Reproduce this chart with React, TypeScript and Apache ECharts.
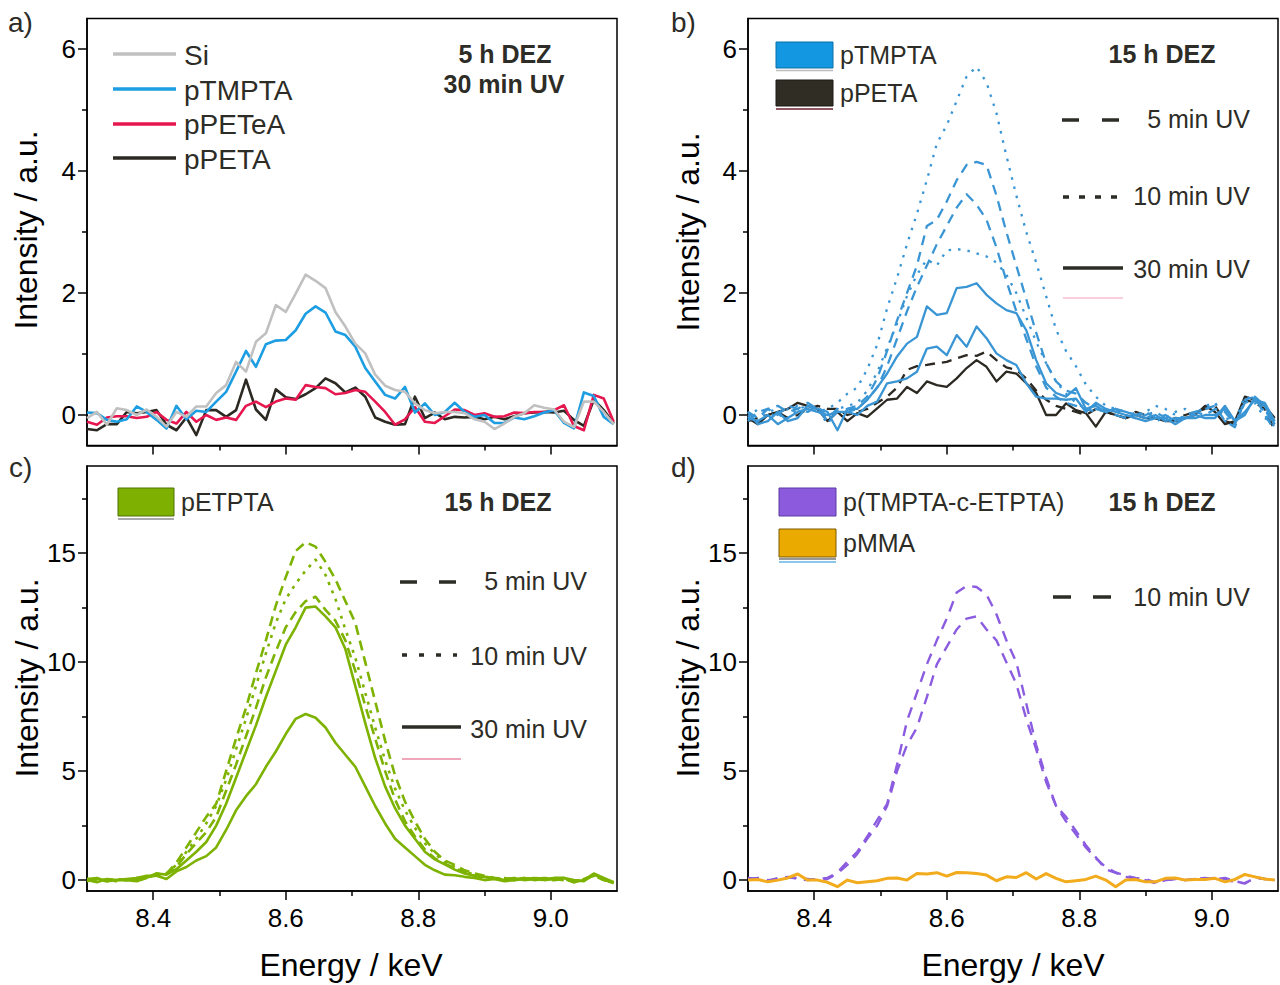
import React, { useEffect, useRef } from "react";
import * as echarts from "echarts";

// Energy grid (keV)
const energy = [
  8.300, 8.315, 8.330, 8.345, 8.360, 8.375, 8.390, 8.405, 8.420, 8.435,
  8.450, 8.465, 8.480, 8.495, 8.510, 8.525, 8.540, 8.555, 8.570, 8.585,
  8.600, 8.615, 8.630, 8.645, 8.660, 8.675, 8.690, 8.705, 8.720, 8.735,
  8.750, 8.765, 8.780, 8.795, 8.810, 8.825, 8.840, 8.855, 8.870, 8.885,
  8.900, 8.915, 8.930, 8.945, 8.960, 8.975, 8.990, 9.005, 9.020, 9.035,
  9.050, 9.065, 9.080, 9.095,
];

// ---- Panel a (5 h DEZ, 30 min UV)
const siA = [
  -0.05, 0.05, -0.16, 0.11, 0.08, 0.0, 0.09, -0.03, -0.19, 0.05,
  -0.03, 0.14, 0.14, 0.36, 0.49, 0.87, 0.71, 1.2, 1.34, 1.8,
  1.69, 1.99, 2.3, 2.2, 2.08, 1.69, 1.45, 1.17, 1.01, 0.66,
  0.48, 0.41, 0.38, 0.19, 0.08, 0.03, 0.05, 0.05, 0.03, -0.07,
  -0.11, -0.23, -0.14, -0.03, 0.03, 0.16, 0.12, 0.09, -0.11, -0.2,
  0.22, 0.22, 0.05, -0.15,
];
const tmptaA = [
  0.04, 0.03, -0.08, -0.11, -0.07, 0.14, 0.05, -0.08, -0.22, 0.15,
  -0.07, 0.07, 0.05, 0.22, 0.38, 0.71, 1.05, 0.79, 1.16, 1.22,
  1.23, 1.39, 1.66, 1.78, 1.68, 1.37, 1.31, 1.12, 0.77, 0.55,
  0.33, 0.27, 0.46, 0.04, 0.19, 0.0, 0.05, 0.2, 0.05, -0.03,
  0.0, -0.13, -0.13, -0.04, -0.07, -0.02, 0.04, 0.08, -0.13, -0.22,
  0.37, 0.31, -0.03, -0.15,
];
const peteaA = [
  -0.11, -0.16, -0.04, -0.02, -0.02, -0.05, -0.03, 0.05, -0.08, -0.14,
  0.05, -0.11, 0.0, -0.08, -0.04, -0.08, 0.15, 0.22, 0.13, 0.22,
  0.27, 0.25, 0.49, 0.46, 0.44, 0.34, 0.36, 0.41, 0.38, 0.22,
  0.05, -0.16, -0.07, 0.13, -0.11, -0.13, -0.02, 0.09, 0.08, 0.0,
  0.03, -0.03, -0.02, 0.04, 0.03, 0.05, 0.05, 0.08, 0.16, -0.18,
  -0.25, 0.33, 0.27, -0.11,
];
const petaA = [
  -0.23, -0.25, -0.15, -0.15, 0.05, 0.03, 0.05, 0.08, -0.16, -0.25,
  -0.04, -0.33, 0.08, 0.08, -0.03, 0.08, 0.58, 0.09, -0.08, 0.42,
  0.29, 0.26, 0.34, 0.44, 0.6, 0.52, 0.37, 0.45, 0.3, -0.04,
  -0.11, -0.16, -0.15, 0.3, -0.05, 0.04, -0.07, -0.03, -0.04, -0.03,
  -0.07, -0.03, -0.07, -0.02, 0.03, 0.04, 0.05, 0.04, 0.07, -0.08,
  -0.18, 0.25, 0.08, -0.14,
];

// ---- Panel b (15 h DEZ)
const tmptaB10a = [
  -0.05, 0.1, 0.05, -0.05, 0.1, 0.15, 0.12, 0.05, 0.1, 0.2,
  0.35, 0.45, 0.75, 1.15, 1.75, 2.25, 2.8, 3.3, 3.85, 4.45,
  4.75, 5.15, 5.55, 5.71, 5.45, 4.95, 4.25, 3.6, 3.0, 2.5,
  1.95, 1.4, 1.05, 0.8, 0.5, 0.3, 0.15, 0.1, 0.05, 0.0,
  0.05, 0.15, 0.1, 0.0, -0.05, 0.05, 0.1, 0.2, -0.05, -0.1,
  0.3, 0.25, 0.05, -0.2,
];
const tmptaB10b = [
  0.0, -0.1, 0.05, 0.1, -0.05, 0.1, 0.15, 0.1, -0.15, 0.1,
  0.15, 0.2, 0.4, 0.7, 1.1, 1.5, 1.95, 2.3, 2.55, 2.45,
  2.7, 2.72, 2.7, 2.65, 2.6, 2.5, 2.3, 2.0, 1.6, 1.2,
  0.85, 0.55, 0.35, 0.2, 0.1, 0.15, 0.05, 0.0, -0.05, 0.05,
  0.0, -0.1, -0.05, 0.05, 0.1, 0.0, 0.15, 0.2, -0.1, -0.15,
  0.25, 0.2, -0.05, -0.15,
];
const tmptaB5a = [
  0.05, -0.05, 0.1, 0.15, 0.05, 0.1, 0.2, 0.1, -0.1, 0.05,
  0.1, 0.15, 0.3, 0.6, 1.05, 1.55, 2.0, 2.45, 3.1, 3.2,
  3.5, 3.85, 4.1, 4.15, 4.1, 3.6, 3.0, 2.45, 1.9, 1.35,
  0.85, 0.55, 0.4, 0.35, 0.2, 0.1, 0.05, 0.1, 0.0, -0.05,
  0.0, 0.05, -0.05, -0.1, 0.0, 0.05, 0.1, 0.15, -0.1, -0.2,
  0.25, 0.3, 0.0, -0.25,
];
const tmptaB5b = [
  -0.1, 0.05, 0.1, 0.0, 0.15, 0.1, 0.05, 0.15, -0.05, 0.1,
  0.05, 0.1, 0.25, 0.45, 0.8, 1.25, 1.7, 2.1, 2.45, 2.8,
  3.1, 3.4, 3.62, 3.45, 3.2, 2.75, 2.2, 1.7, 1.25, 0.8,
  0.45, 0.3, 0.2, 0.15, 0.1, 0.05, 0.1, 0.0, -0.05, 0.0,
  0.05, -0.05, 0.0, -0.1, -0.05, 0.05, 0.0, 0.1, 0.05, -0.15,
  0.2, 0.25, 0.1, -0.2,
];
const tmptaB30a = [
  0.05, -0.15, -0.1, 0.05, -0.1, -0.05, 0.15, 0.1, 0.05, -0.25,
  0.1, 0.1, 0.25, 0.45, 0.68, 0.96, 1.17, 1.28, 1.78, 1.64,
  1.67, 2.08, 2.1, 2.16, 1.97, 1.83, 1.72, 1.67, 1.39, 0.9,
  0.52, 0.36, 0.3, 0.44, 0.1, 0.15, 0.05, 0.1, 0.05, 0.0,
  -0.05, 0.0, -0.1, -0.05, -0.05, 0.0, -0.05, -0.05, 0.15, -0.1,
  0.0, 0.3, 0.15, -0.15,
];
const tmptaB30b = [
  -0.05, -0.1, 0.0, -0.15, -0.05, 0.05, 0.1, 0.05, 0.0, 0.05,
  0.05, 0.0, 0.15, 0.22, 0.52, 0.55, 0.6, 0.71, 1.09, 1.12,
  0.98, 1.31, 1.12, 1.45, 1.26, 1.01, 0.9, 0.82, 0.52, 0.3,
  0.27, 0.27, 0.25, 0.27, 0.05, 0.2, 0.1, 0.05, 0.0, -0.05,
  -0.1, -0.05, -0.05, -0.15, -0.05, -0.05, 0.0, 0.0, 0.1, -0.1,
  0.05, 0.25, 0.2, -0.1,
];
const petaB5 = [
  -0.1, -0.05, 0.0, 0.05, -0.05, 0.0, 0.1, 0.15, 0.1, 0.1,
  0.0, 0.05, 0.1, 0.2, 0.3, 0.45, 0.74, 0.8, 0.82, 0.85,
  0.87, 0.93, 0.98, 0.97, 1.04, 0.9, 0.78, 0.74, 0.6, 0.4,
  0.25, 0.15, 0.1, 0.05, 0.0, 0.1, 0.05, 0.0, -0.05, 0.05,
  0.0, -0.05, -0.1, -0.05, 0.0, 0.05, 0.1, 0.15, -0.1, -0.15,
  0.25, 0.2, 0.1, -0.25,
];
const petaB30 = [
  -0.05, -0.15, 0.0, 0.05, 0.1, 0.2, 0.15, 0.1, -0.1, 0.05,
  -0.1, 0.03, -0.03, 0.11, 0.25, 0.27, 0.46, 0.36, 0.55, 0.49,
  0.46, 0.6, 0.77, 0.9, 0.79, 0.55, 0.71, 0.68, 0.52, 0.36,
  0.0, 0.0, 0.19, 0.08, 0.03, -0.19, 0.05, 0.0, -0.05, 0.0,
  -0.05, -0.05, -0.1, -0.1, -0.05, 0.0, 0.15, 0.05, -0.15, -0.1,
  0.3, 0.25, 0.15, -0.05,
];

// ---- Panel c (pETPTA, 15 h DEZ)
const etptaC5a = [
  0.05, 0.0, -0.05, 0.05, 0.0, 0.05, 0.15, 0.2, 0.3, 0.8,
  1.5, 2.2, 2.9, 3.5, 5.0, 6.5, 7.9, 9.5, 11.0, 12.6,
  13.9, 15.1, 15.5, 15.3, 14.6, 13.8, 12.8, 11.8, 10.0, 8.2,
  6.4, 4.8, 3.6, 2.7, 1.9, 1.3, 0.9, 0.7, 0.45, 0.3,
  0.2, 0.1, 0.05, 0.1, 0.0, 0.05, 0.1, 0.05, 0.0, -0.05,
  0.05, 0.2, 0.0, -0.1,
];
const etptaC5b = [
  -0.05, 0.05, 0.0, 0.05, 0.0, 0.1, 0.1, 0.3, 0.3, 0.6,
  1.2, 1.7, 2.2, 2.9, 4.1, 5.3, 6.6, 7.9, 9.3, 10.5,
  11.6, 12.3, 12.8, 13.0, 12.4, 11.9, 11.0, 9.6, 8.0, 6.5,
  5.0, 3.7, 2.7, 2.0, 1.4, 1.0, 0.75, 0.55, 0.35, 0.2,
  0.1, 0.05, 0.1, 0.0, 0.05, 0.1, 0.05, 0.0, 0.05, -0.1,
  0.05, 0.2, 0.0, -0.1,
];
const etptaC10 = [
  0.0, 0.05, 0.0, -0.05, 0.05, 0.0, 0.1, 0.25, 0.3, 0.7,
  1.3, 1.9, 2.6, 3.4, 4.6, 6.0, 7.4, 8.9, 10.4, 11.8,
  12.9, 13.6, 14.2, 14.7, 14.0, 12.9, 11.5, 10.2, 8.6, 7.0,
  5.5, 4.2, 3.2, 2.4, 1.7, 1.2, 0.85, 0.6, 0.4, 0.25,
  0.15, 0.1, 0.05, 0.0, 0.1, 0.05, 0.0, 0.1, 0.05, -0.05,
  0.0, 0.25, 0.05, -0.15,
];
const etptaC30a = [
  0.0, -0.1, 0.05, 0.0, 0.0, -0.05, 0.1, 0.3, 0.25, 0.5,
  0.9, 1.3, 1.75, 2.5, 3.5, 4.7, 5.9, 7.1, 8.4, 9.6,
  10.8, 11.6, 12.5, 12.55, 12.1, 11.6, 10.6, 8.9, 7.2, 5.6,
  4.3, 3.3, 2.5, 1.9, 1.3, 0.95, 0.72, 0.48, 0.3, 0.2,
  0.15, 0.1, 0.0, 0.05, 0.1, 0.0, 0.05, 0.1, 0.1, 0.0,
  -0.05, 0.25, 0.05, -0.15,
];
const etptaC30b = [
  0.05, 0.1, -0.05, 0.0, 0.05, 0.1, 0.2, 0.2, 0.05, 0.4,
  0.6, 0.9, 1.1, 1.5, 2.3, 3.2, 3.85, 4.4, 5.2, 5.9,
  6.7, 7.4, 7.62, 7.45, 7.0, 6.3, 5.75, 5.2, 4.3, 3.4,
  2.6, 1.9, 1.5, 1.1, 0.7, 0.45, 0.25, 0.22, 0.15, 0.1,
  0.0, 0.05, -0.05, 0.0, 0.05, 0.1, 0.0, 0.05, 0.1, -0.1,
  0.0, 0.3, 0.1, -0.1,
];

// ---- Panel d (15 h DEZ)
const copolyD10a = [
  0.1, 0.05, -0.05, 0.1, 0.15, 0.05, 0.0, 0.05, 0.1, 0.35,
  0.85, 1.3, 2.0, 2.75, 3.5, 5.3, 7.3, 8.6, 9.9, 11.0,
  12.0, 13.2, 13.5, 13.45, 13.1, 12.2, 11.0, 10.0, 8.1, 6.2,
  4.7, 3.4, 2.9, 2.25, 1.6, 1.05, 0.5, 0.33, 0.15, 0.05,
  0.0, -0.15, 0.0, 0.05, 0.0, 0.05, 0.1, 0.05, 0.1, -0.05,
  -0.15, 0.15, 0.05, 0.0,
];
const copolyD10b = [
  0.05, 0.1, 0.0, 0.05, 0.1, 0.1, 0.05, 0.0, 0.05, 0.3,
  0.7, 1.2, 1.9, 2.5, 3.4, 5.0, 6.2, 7.0, 8.4, 9.9,
  10.7, 11.5, 12.0, 12.1, 11.5, 11.0, 10.0, 9.0, 7.4, 6.0,
  4.5, 3.4, 2.7, 2.1, 1.5, 1.0, 0.6, 0.35, 0.2, 0.1,
  0.05, -0.1, 0.0, 0.05, 0.0, 0.05, 0.05, 0.1, 0.05, -0.1,
  -0.15, 0.1, 0.05, 0.0,
];
const pmmaD = [
  0.0, 0.03, -0.08, 0.0, 0.1, 0.28, 0.0, 0.0, -0.1, -0.3,
  0.0, -0.12, -0.08, -0.03, 0.08, 0.1, 0.0, 0.3, 0.28, 0.34,
  0.18, 0.35, 0.34, 0.3, 0.23, -0.03, 0.15, 0.12, 0.34, 0.05,
  0.3, 0.08, -0.08, -0.03, 0.03, 0.18, 0.0, -0.3, 0.0, 0.03,
  -0.08, -0.08, 0.08, 0.1, 0.0, 0.03, 0.03, 0.08, -0.08, 0.03,
  0.26, 0.15, 0.05, 0.0,
];

// ---- Ticks
const xMajor = [8.4, 8.6, 8.8, 9.0];
const xMinor = [8.5, 8.7, 8.9];
const yMajorTop = [0, 2, 4, 6];
const yMinorTop = [1, 3, 5];
const yMajorBottom = [0, 5, 10, 15];
const yMinorBottom = [2.5, 7.5, 12.5, 17.5];

const FONT = '"Liberation Sans", Arial, Helvetica, sans-serif';
const INK = "#2d2c26";

const C = {
  gray: "#c0c0c0",
  blueA: "#1d9de2",
  blueB: "#3a95d4",
  red: "#e6174f",
  dark: "#2b2922",
  green: "#7db300",
  purple: "#8b5ce0",
  orange: "#f2ab1c",
};

function pairs(vals: number[]) {
  return energy.map((e, i) => [e, vals[i]]);
}

function line(
  name: string,
  vals: number[],
  color: string,
  width: number,
  dash: any,
  axis: number
) {
  return {
    type: "line",
    name,
    data: pairs(vals),
    xAxisIndex: axis,
    yAxisIndex: axis,
    symbol: "none",
    showSymbol: false,
    silent: true,
    clip: true,
    lineStyle: { color, width, type: dash, cap: "butt", join: "round" },
  };
}

function buildOption() {
  const grids = [
    { left: 87, top: 18.5, width: 530, height: 427 },
    { left: 748, top: 18.5, width: 530, height: 427 },
    { left: 87, top: 466, width: 530, height: 425 },
    { left: 748, top: 466, width: 530, height: 425 },
  ].map((g) => ({
    ...g,
    show: true,
    borderColor: "#000",
    borderWidth: 1.5,
    backgroundColor: "transparent",
    containLabel: false,
  }));

  const xAxes: any[] = [];
  const yAxes: any[] = [];
  for (let gi = 0; gi < 4; gi++) {
    const labels = gi >= 2;
    xAxes.push({
      type: "value",
      gridIndex: gi,
      position: "bottom",
      min: 8.3,
      max: 9.1,
      axisLine: { show: true, onZero: false, lineStyle: { color: "#000", width: 1.5 } },
      axisTick: { show: true, customValues: xMajor, length: 9, lineStyle: { color: "#000", width: 1.5 } },
      axisLabel: {
        show: labels,
        customValues: xMajor,
        formatter: (v: number) => v.toFixed(1),
        fontSize: 26,
        fontFamily: FONT,
        color: "#000",
        margin: 14,
      },
      splitLine: { show: false },
    });
    const top = gi < 2;
    yAxes.push({
      type: "value",
      gridIndex: gi,
      position: "left",
      min: -0.5,
      max: top ? 6.5 : 19,
      axisLine: { show: true, onZero: false, lineStyle: { color: "#000", width: 1.5 } },
      axisTick: { show: true, customValues: top ? yMajorTop : yMajorBottom, length: 9, lineStyle: { color: "#000", width: 1.5 } },
      axisLabel: {
        show: true,
        customValues: top ? yMajorTop : yMajorBottom,
        formatter: (v: number) => String(v),
        fontSize: 26,
        fontFamily: FONT,
        color: "#000",
        margin: 11,
      },
      splitLine: { show: false },
    });
  }
  for (let gi = 0; gi < 4; gi++) {
    xAxes.push({
      type: "value",
      gridIndex: gi,
      position: "bottom",
      min: 8.3,
      max: 9.1,
      axisLine: { show: false, onZero: false },
      axisTick: { show: true, customValues: xMinor, length: 5, lineStyle: { color: "#000", width: 1.5 } },
      axisLabel: { show: false },
      splitLine: { show: false },
    });
    const top = gi < 2;
    yAxes.push({
      type: "value",
      gridIndex: gi,
      position: "left",
      min: -0.5,
      max: top ? 6.5 : 19,
      axisLine: { show: false, onZero: false },
      axisTick: { show: true, customValues: top ? yMinorTop : yMinorBottom, length: 5, lineStyle: { color: "#000", width: 1.5 } },
      axisLabel: { show: false },
      splitLine: { show: false },
    });
  }

  const dashB = [10, 7];
  const dotB = [2.5, 7];
  const dashC = [10, 6];
  const dotC = [3, 6];
  const dashD = [11, 8];

  const series = [
    // a
    line("pPETA", petaA, C.dark, 2.6, "solid", 0),
    line("pPETeA", peteaA, C.red, 2.6, "solid", 0),
    line("pTMPTA", tmptaA, C.blueA, 2.6, "solid", 0),
    line("Si", siA, C.gray, 2.6, "solid", 0),
    // b
    line("pPETA 5", petaB5, C.dark, 2.3, dashB, 1),
    line("pPETA 30", petaB30, C.dark, 2.3, "solid", 1),
    line("pTMPTA 10a", tmptaB10a, C.blueB, 2.3, dotB, 1),
    line("pTMPTA 10b", tmptaB10b, C.blueB, 2.3, dotB, 1),
    line("pTMPTA 5a", tmptaB5a, C.blueB, 2.3, dashB, 1),
    line("pTMPTA 5b", tmptaB5b, C.blueB, 2.3, dashB, 1),
    line("pTMPTA 30a", tmptaB30a, C.blueB, 2.3, "solid", 1),
    line("pTMPTA 30b", tmptaB30b, C.blueB, 2.3, "solid", 1),
    // c
    line("pETPTA 5a", etptaC5a, C.green, 2.6, dashC, 2),
    line("pETPTA 5b", etptaC5b, C.green, 2.6, dashC, 2),
    line("pETPTA 10", etptaC10, C.green, 2.6, dotC, 2),
    line("pETPTA 30a", etptaC30a, C.green, 2.6, "solid", 2),
    line("pETPTA 30b", etptaC30b, C.green, 2.6, "solid", 2),
    // d
    line("p(TMPTA-c-ETPTA) a", copolyD10a, C.purple, 2.4, dashD, 3),
    line("p(TMPTA-c-ETPTA) b", copolyD10b, C.purple, 2.4, dashD, 3),
    line("pMMA", pmmaD, C.orange, 3, "solid", 3),
  ];

  const txt = (
    text: string,
    x: number,
    y: number,
    size: number,
    align: string = "left",
    bold = false,
    color = INK,
    rotation = 0
  ) => ({
    type: "text",
    x,
    y,
    rotation,
    silent: true,
    z: 100,
    style: {
      text,
      fill: color,
      fontSize: size,
      fontFamily: FONT,
      fontWeight: bold ? "bold" : "normal",
      align,
      verticalAlign: "middle",
      textAlign: align,
      textVerticalAlign: "middle",
    },
  });
  const seg = (x1: number, x2: number, y: number, color: string, width: number, dash?: number[]) => ({
    type: "line",
    silent: true,
    z: 100,
    shape: { x1, y1: y, x2, y2: y },
    style: { stroke: color, lineWidth: width, lineDash: dash || null, lineCap: "butt" },
  });
  const box = (x: number, y: number, w: number, h: number, fill: string, stroke: string) => ({
    type: "rect",
    silent: true,
    z: 100,
    shape: { x, y, width: w, height: h },
    style: { fill, stroke, lineWidth: 1 },
  });

  const graphic = [
    // panel labels
    txt("a)", 8, 22, 28, "left", false, INK),
    txt("b)", 671, 22, 28, "left", false, INK),
    txt("c)", 9, 467, 28, "left", false, INK),
    txt("d)", 671, 467, 28, "left", false, INK),
    // axis titles
    txt("Intensity / a.u.", 26, 230, 32, "center", false, "#000", Math.PI / 2),
    txt("Intensity / a.u.", 688, 232, 32, "center", false, "#000", Math.PI / 2),
    txt("Intensity / a.u.", 27, 678, 32, "center", false, "#000", Math.PI / 2),
    txt("Intensity / a.u.", 688, 678, 32, "center", false, "#000", Math.PI / 2),
    txt("Energy / keV", 351, 965, 32, "center", false, "#000"),
    txt("Energy / keV", 1013, 965, 32, "center", false, "#000"),

    // panel a legend
    seg(113, 176, 54, C.gray, 3.5),
    seg(113, 176, 89, C.blueA, 3.5),
    seg(113, 176, 124, C.red, 3.5),
    seg(113, 176, 158, C.dark, 3.5),
    txt("Si", 184, 55, 28),
    txt("pTMPTA", 184, 90, 28),
    txt("pPETeA", 184, 124, 28),
    txt("pPETA", 184, 159, 28),
    txt("5 h DEZ", 505, 54, 25, "center", true),
    txt("30 min UV", 504, 84, 25, "center", true),

    // panel b legend
    seg(776, 833, 70.5, "#bdbdbd", 1.5),
    seg(776, 833, 109, "#6a2030", 1.5),
    box(776, 42, 57, 26, "#1297e0", "#0d6fa6"),
    box(776, 80, 57, 26, "#302e24", "#1a1812"),
    txt("pTMPTA", 840, 55, 25),
    txt("pPETA", 840, 93, 25),
    txt("15 h DEZ", 1162, 54, 25, "center", true),
    seg(1062, 1119, 120, INK, 3.5, [17, 23]),
    seg(1063, 1119, 197, INK, 3.5, [6, 10]),
    seg(1063, 1123, 268, INK, 3.5),
    seg(1063, 1123, 298, "#f3a0b8", 1.2),
    txt("5 min UV", 1250, 119, 25, "right"),
    txt("10 min UV", 1250, 196, 25, "right"),
    txt("30 min UV", 1250, 269, 25, "right"),

    // panel c legend
    seg(118, 174, 519, "#555", 1.2),
    box(118, 488, 56, 28, "#7db000", "#4f7000"),
    txt("pETPTA", 181, 502, 25),
    txt("15 h DEZ", 498, 502, 25, "center", true),
    seg(400, 456, 582, INK, 3.5, [17, 22]),
    seg(402, 457, 655, INK, 3.5, [5, 12]),
    seg(402, 461, 727, INK, 3.5),
    seg(402, 461, 759, "#e0507a", 1.2),
    txt("5 min UV", 587, 581, 25, "right"),
    txt("10 min UV", 587, 656, 25, "right"),
    txt("30 min UV", 587, 729, 25, "right"),

    // panel d legend
    box(779, 488, 57, 28, "#8c5bdd", "#5a3aa0"),
    seg(779, 836, 559, "#333", 1.2),
    seg(779, 836, 562, "#1a8fd0", 1.2),
    box(779, 529, 57, 28, "#ebaa00", "#7a5a00"),
    txt("p(TMPTA-c-ETPTA)", 843, 502, 25),
    txt("pMMA", 843, 543, 25),
    txt("15 h DEZ", 1162, 502, 25, "center", true),
    seg(1053, 1111, 597, INK, 3.5, [18, 22]),
    txt("10 min UV", 1250, 597, 25, "right"),
  ];

  return {
    animation: false,
    backgroundColor: "#ffffff",
    textStyle: { fontFamily: FONT },
    grid: grids,
    xAxis: xAxes,
    yAxis: yAxes,
    series,
    graphic: { elements: graphic },
  };
}

export default function App() {
  const ref = useRef<HTMLDivElement>(null);
  useEffect(() => {
    document.body.style.margin = "0";
    const chart = echarts.init(ref.current as HTMLDivElement, null, { renderer: "svg" });
    chart.setOption(buildOption() as any);
    return () => chart.dispose();
  }, []);
  return <div ref={ref} style={{ width: 1280, height: 985 }} />;
}
